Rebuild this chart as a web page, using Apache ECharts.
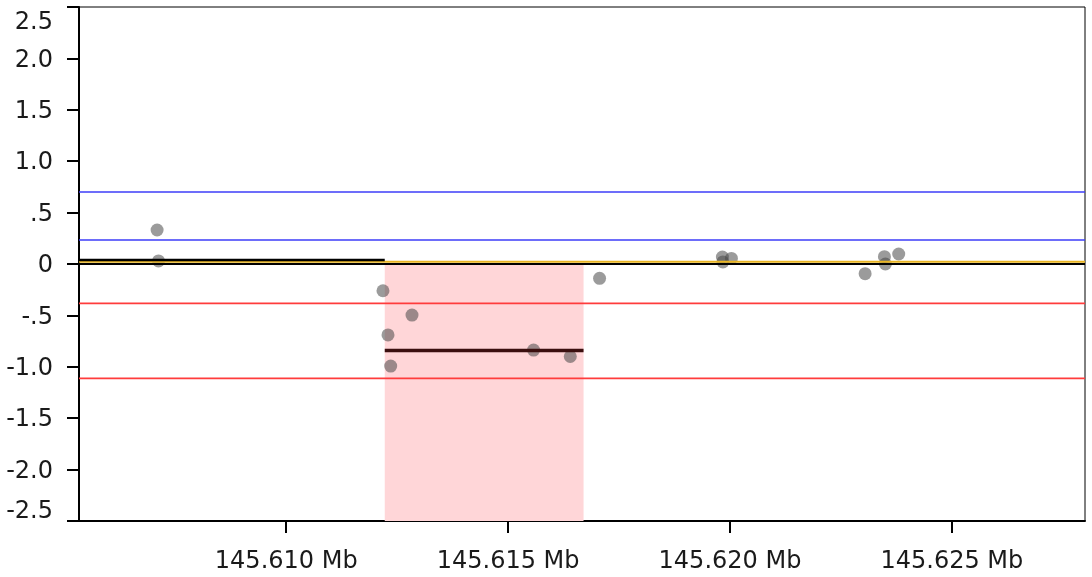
<!DOCTYPE html>
<html>
<head>
<meta charset="utf-8">
<script src="https://cdn.jsdelivr.net/npm/echarts@6/dist/echarts.min.js"></script>
<style>html,body{margin:0;padding:0;background:#fff;}#c{width:1092px;height:577px;}</style>
</head>
<body>
<div id="c"></div>
<script>
// ---- data ----
var xRange = [145605330, 145628000];
var xTickValues = [145610000, 145615000, 145620000, 145625000];
var yTickValues = [-2.5, -2.0, -1.5, -1.0, -0.5, 0, 0.5, 1.0, 1.5, 2.0, 2.5];
var yTickLabels = ['-2.5', '-2.0', '-1.5', '-1.0', '-.5', '0', '.5', '1.0', '1.5', '2.0', '2.5'];
var pointsX = [145607090, 145607122, 145612180, 145612834, 145612293, 145612354, 145615574, 145616401, 145617061, 145619829, 145620032, 145619840, 145623045, 145623480, 145623502, 145623802];
var pointsY = [0.331, 0.03, -0.26, -0.497, -0.69, -0.993, -0.837, -0.90, -0.139, 0.068, 0.054, 0.02, -0.094, 0.071, 0.0, 0.097];
var blueLines = [0.70, 0.234];
var redLines = [-0.383, -1.113];
var orangeLine = 0.022;
var zeroLine = 0;
var segStart = [145605330, 145612220];
var segEnd = [145612220, 145616700];
var segValue = [0.039, -0.842];
var segColor = ['#000000', '#3b0f0f'];
var regionX = [145612220, 145616700];
var regionY = [0, -2.5];

var FONT = 'DejaVu Sans';
var FS = 24;
var TXT = '#1a1a1a';
var chart = echarts.init(document.getElementById('c'));

function hline(v, color, width, z) {
  return {
    type: 'line', data: [[xRange[0], v], [xRange[1], v]], symbol: 'none', silent: true,
    lineStyle: { color: color, width: width }, z: z, animation: false
  };
}

var series = [];
series.push({
  type: 'scatter',
  data: pointsX.map(function (x, i) { return [x, pointsY[i]]; }),
  symbolSize: 13,
  itemStyle: { color: 'rgba(70,70,70,0.68)' },
  z: 3,
  markArea: {
    silent: true,
    itemStyle: { color: '#ffd6d8' },
    data: [[{ xAxis: regionX[0], yAxis: regionY[0] }, { xAxis: regionX[1], yAxis: regionY[1] }]]
  }
});
blueLines.forEach(function (v) { series.push(hline(v, '#3c3cf8', 1.6, 4)); });
redLines.forEach(function (v) { series.push(hline(v, '#ff3c3c', 1.6, 4)); });
series.push(hline(zeroLine, '#000000', 2, 5));
series.push(hline(orangeLine, '#e8b422', 2, 6));
segValue.forEach(function (v, i) {
  series.push({
    type: 'line', data: [[segStart[i], v], [segEnd[i], v]], symbol: 'none', silent: true,
    lineStyle: { color: segColor[i], width: i === 0 ? 2.5 : 3.5 }, z: 7, animation: false
  });
});

chart.setOption({
  animation: false,
  grid: { left: 79, right: 7, top: 7, bottom: 56, containLabel: false, outerBoundsMode: 'none', show: true, borderColor: '#000', borderWidth: 1, backgroundColor: 'transparent' },
  xAxis: {
    type: 'value', min: xRange[0], max: xRange[1],
    axisLine: { show: true, onZero: false, lineStyle: { color: '#000', width: 2 } },
    axisTick: { show: true, length: 12, lineStyle: { color: '#000', width: 2 }, customValues: xTickValues },
    splitLine: { show: false },
    axisLabel: {
      customValues: xTickValues, margin: 29, color: TXT, fontFamily: FONT, fontSize: FS,
      formatter: function (v) { return (v / 1e6).toFixed(3) + ' Mb'; }
    }
  },
  yAxis: {
    type: 'value', min: -2.5, max: 2.5, interval: 0.5,
    axisLine: { show: true, onZero: false, lineStyle: { color: '#000', width: 2 } },
    axisTick: { show: true, length: 12, lineStyle: { color: '#000', width: 2 } },
    splitLine: { show: false },
    axisLabel: {
      margin: 26, color: TXT, fontFamily: FONT, fontSize: FS,
      formatter: function (v) {
        var idx = -1;
        for (var i = 0; i < yTickValues.length; i++) { if (Math.abs(yTickValues[i] - v) < 1e-9) idx = i; }
        var t = idx >= 0 ? yTickLabels[idx] : '';
        if (idx === yTickValues.length - 1) return '{a| }\n{v|' + t + '}';
        if (idx === 0) return '{v|' + t + '}\n{b| }';
        return '{m|' + t + '}';
      },
      rich: {
        a: { lineHeight: 32, fontSize: FS, fontFamily: FONT },
        b: { lineHeight: 18, fontSize: FS, fontFamily: FONT },
        v: { lineHeight: 24, fontSize: FS, fontFamily: FONT, color: TXT },
        m: { lineHeight: 24, padding: [4, 0, 0, 0], fontSize: FS, fontFamily: FONT, color: TXT }
      }
    }
  },
  series: series
});
</script>
</body>
</html>
